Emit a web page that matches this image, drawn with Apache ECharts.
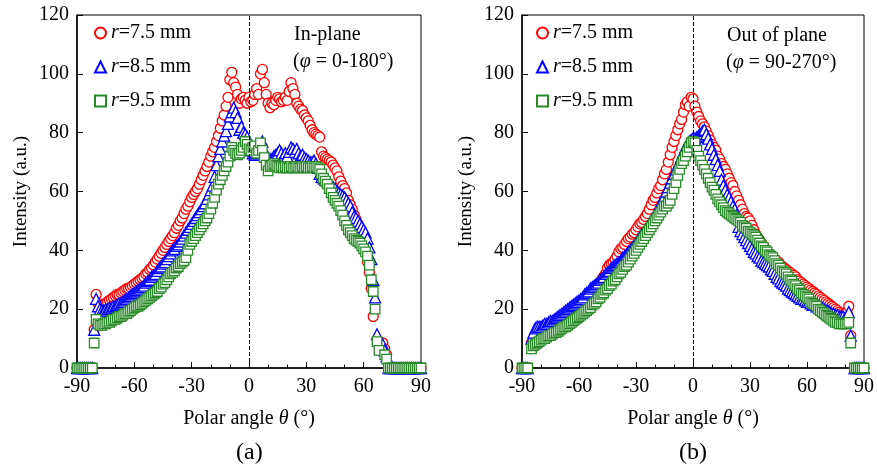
<!DOCTYPE html>
<html>
<head>
<meta charset="utf-8">
<script src="https://cdn.jsdelivr.net/npm/echarts@6/dist/echarts.min.js"></script>
<style>
html,body{margin:0;padding:0;background:#fff;}
#chart{width:877px;height:469px;}
</style>
</head>
<body>
<div id="chart"></div>
<script>
// Polar angle theta (deg), panel (a) and (b)
const thetaA = [
-90,-89,-88,-87,-86,-85,-84,-83,-82,-81,
-80,-79,-78,-77,-76,-75,-74,-73,-72,-71,
-70,-69,-68,-67,-66,-65,-64,-63,-62,-61,
-60,-59,-58,-57,-56,-55,-54,-53,-52,-51,
-50,-49,-48,-47,-46,-45,-44,-43,-42,-41,
-40,-39,-38,-37,-36,-35,-34,-33,-32,-31,
-30,-29,-28,-27,-26,-25,-24,-23,-22,-21,
-20,-19,-18,-17,-16,-15,-14,-13,-12,-11,
-10,-9,-8,-7,-6,-5,-4,-3,-2,-1,
0,1,2,3,4,5,6,7,8,9,
10,11,12,13,14,15,16,17,18,19,
20,21,22,23,24,25,26,27,28,29,
30,31,32,33,34,35,36,37,38,39,
40,41,42,43,44,45,46,47,48,49,
50,51,52,53,54,55,56,57,58,59,
60,61,62,63,64,65,66,67,68,69,
70,71,72,73,74,75,76,77,78,79,
80,81,82,83,84,85,86,87,88,89,90];
const thetaB = thetaA.slice();

// (a) In-plane (phi = 0-180 deg)
const inPlaneR75 = [
0,0,0,0,0,0,0,0,0,13,
25,22,21,21,21.5,22,22.5,23,23.5,24,
24.5,25,25,25.5,26,26.5,27,27,27.5,28,
28.5,29,29.5,30,30.5,31,32,32.5,33.5,34,
35,36,37,38,39,40,41,42,43,44,
45,46,47.5,48.5,50,51,52.5,54,55,56.5,
58,59,60,61,62.5,64,65.5,67,68.5,70,
72,73.5,75,77,79,81.5,84,86,89,92,
98,100.5,97,95.5,93,90,91.5,92,91,90,
92,90.5,91,93,95,93,100,101.5,97,93,
90,88.5,90,89.5,91,92,91.5,90.5,91,92,
91,94,97,95,93,90,89,88,87.5,86,
85,84,82.5,81,80,79.5,79,78.5,73.5,72,
71.5,71,70.5,70,69,68,67,65,63.5,62,
61,59.5,57,55.5,54,52,50.5,49,47,45,
42.5,40,36,32.5,27,17.5,null,null,null,null,
8.5,6.5,4.5,0,0,0,0,0,0,0,
0,0,0,0,0,0,0,0,0,0,0];
const inPlaneR85 = [
0,0,0,0,0,0,0,0,0,13,
23.5,21,20,19.5,19.5,20,20,20.5,20.5,21,
21,21.5,22,22,22.5,23,23.5,24,24.5,25,
25.5,26,26.5,27,27.5,28,29,29.5,30,31,
31.5,32,33,34,34.5,35.5,36,37,38,39,
40,40.5,41.5,42,43,44,45,46,47,48,
49,50,51,52,53,54,55,56,57.5,59,
60.5,62,65,69,72,74.5,77,79,80.5,83,
85.5,87,88.5,87,85,81,82,80,79.5,78.5,
76,74,73,72.5,73,74,75,77,74,72.5,
71.5,71,71,72,72.5,73,74,73,72,73,
72,73.5,75,74.5,73.5,74.5,73,72,72.5,71.5,
71,70.5,70,70,70.5,69.5,68,66,65,64.5,
64,63.5,63,62,61.5,61,60,59.5,59,58.5,
58,57,56,55,53,51.5,51,50,49,48,
47,46,44,41,37,30,24,11.5,null,null,
8,6,4,0,0,0,0,0,0,0,
0,0,0,0,0,0,0,0,0,0,0];
const inPlaneR95 = [
0,0,0,0,0,0,0,0,0,8.5,
16.5,15,14.5,14.5,15,15,15.5,15.5,16,16.5,
16.5,17,17.5,17.5,18,18.5,18.5,19,19.5,20,
20.5,21,21,21.5,22,22.5,23,23.5,24,24.5,
25,25.5,26,27,27.5,28.5,29,30,31,32,
32.5,33,34,34.5,35.5,36,36.5,37.5,40,42,
43,44,45,46,47,48,49,50,51,52.5,
54,56,58,60.5,62.5,64,65.5,67,68.5,70,
72,75,74,73,72.5,73,74,75,77,76,
74.5,74,75,75.5,73,74,76.5,74,71.5,69,
67,68.5,69,69.5,69,68.5,68,68.5,68,68.5,
68,68,68.5,68,68,68.5,68,68,68.5,68,
68.5,68,68,68.5,68,68.5,68,67.5,66,64.5,
63.5,62.5,61,59.5,58,57,56,55,53.5,52,
50,48.5,47,46,45,44,43.5,43,42.5,41.5,
40.5,39.5,38,35,30,26,20,9,6,null,
null,4.5,3,0,0,0,0,0,0,0,
0,0,0,0,0,0,0,0,0,0,0];

// (b) Out of plane (phi = 90-270 deg)
const outPlaneR75 = [
0,0,0,0,null,8.5,10,11,11.5,12,
12.5,13,13,13.5,14,14.5,15,15,15.5,16,
16.5,17,17.5,18,18.5,19,19.5,20,20.5,21,
21.5,22,22.5,23,24,24.5,25,26,26.5,27,
28,29,30,31,32,34,35,35.5,36,37,
38,39.5,40.5,41,42,43,44,44.5,45.5,46,
47,48,49,49.5,50.5,51.5,52.5,54,55.5,57,
58,59.5,61,62,64,66,67.5,70,72.5,75,
77,79,81,83,84.5,87,89.5,90.5,89,92,
91.5,89,87,85.5,84,83,82,80.5,79,77.5,
76,75,74,72,71,69.5,68.5,67.5,66,64.5,
63,62,60,58.5,57,55.5,54,52.5,51.5,51,
50,48.5,47,45.5,44.5,43.5,42.5,41.5,40.5,39.5,
38.5,38,37.5,37,36.5,36,35,34.5,34,33.5,
33,32.5,32,31.5,31,30,29.5,29,28.5,28,
27.5,27,26.5,26,25.5,25,24.5,24,23.5,23,
22.5,22,21.5,21,20.5,20,19.5,19,18.5,18,
18.5,19,21,11,null,0,0,0,0,0,0];
const outPlaneR85 = [
0,0,0,0,null,10,12,13.5,14,14,
14,14.5,15,15,15.5,16,16,16.5,17,17.5,
18,18.5,19,19.5,20,20.5,21,21.5,22,22.5,
23,23.5,24,25,25.5,26,27,27.5,28,28.5,
29,30,30.5,31,32,32.5,33,34,34.5,35,
35.5,36,36.5,37.5,38,38.5,39.5,40,41,41.5,
42.5,43.5,44.5,45.5,46,47,48,49,50,51,
52,53,54.5,56,57,58.5,60,61.5,63,64.5,
66,67.5,69,70.5,72,73.5,75,76,77,77.5,
78,78,78.5,79,79.5,80.5,81,79.5,78,76,
74.5,72.5,71,69,67,64,62,60.5,59,58,
56.5,55,54,52,48,46.5,45.5,44.5,43.5,42.5,
41.5,40.5,39.5,39,38,37.5,36.5,36,35.5,35,
34.5,33.5,33,32,31,30.5,29.5,29,28.5,28,
27,26.5,26,25.5,25,24.5,24,23.5,23.5,23,
22.5,22.5,22,21.5,21.5,21,21,20.5,20.5,20,
19.5,19.5,19,18.5,18.5,18,18,17.5,17.5,17.5,
17,17.5,19,11,null,0,0,0,0,0,0];
const outPlaneR95 = [
0,0,0,0,null,6.5,7.5,8,8.5,9,
9.5,10,10,10.5,11,11,11.5,12,12,12.5,
13,13.5,14,14,14.5,15,15.5,16,16.5,17,
17.5,18,18.5,19,19.5,20,20.5,21.5,22,22.5,
23.5,24,25,25.5,26.5,27,28,28.5,29.5,30,
31,32,32.5,33.5,34.5,35,36,37,38,39,
40,41,42,43,44,45,46,47,48,49,
50,51,52,53,54,55,55,56,57,59,
61,63,65.5,67.5,69.5,70.5,72,73.5,75,76.5,
77,76.5,74,72,70.5,69,67.5,66,64.5,63,
61.5,60.5,59,57.5,56.5,55.5,54.5,53.5,53,52.5,
52,51.5,51,50.5,50,49.5,48.5,48,47.5,46.5,
46,45.5,45,44.5,43.5,42.5,41.5,41,40,39.5,
38.5,38,37.5,36.5,35.5,35,34,33,32.5,32,
31,30,29.5,28.5,28,27,26.5,25.5,25,24.5,
24,23.5,22.5,22,21.5,21,20,19.5,19,18.5,
18,17.5,17,16.5,16,15.5,15.5,15,15,15,
15,15,15.5,8.5,null,0,0,0,0,0,0];

const seriesNames = ['r=7.5 mm', 'r=8.5 mm', 'r=9.5 mm'];
const xTicks = {min: -90, max: 90, interval: 30};
const yTicks = {min: 0, max: 120, interval: 20};
const panelLabels = ['(a)', '(b)'];
const notes = [['In-plane', '0-180°'], ['Out of plane', '90-270°']];

const FONT = 'Liberation Serif';
const styles = [
  {symbol: 'circle', size: 10, color: '#ff0000'},
  {symbol: 'triangle', size: 11, color: '#0000ff'},
  {symbol: 'rect', size: 9.5, color: '#2a8a2a'}
];

function pairs(theta, vals) {
  const out = [];
  for (let i = 0; i < theta.length; i++) {
    if (vals[i] !== null && vals[i] !== undefined) out.push([theta[i], vals[i]]);
  }
  return out;
}

const grids = [
  {left: 77, top: 15, width: 344, height: 353},
  {left: 522, top: 15, width: 343, height: 353}
];

function xAxisFor(idx) {
  return {
    gridIndex: idx, type: 'value', min: xTicks.min, max: xTicks.max, interval: xTicks.interval,
    axisLine: {show: true, onZero: false, lineStyle: {color: '#000', width: 1.5}},
    axisTick: {show: true, inside: true, length: 6, lineStyle: {color: '#000', width: 1}},
    minorTick: {show: true, splitNumber: 3, length: 3.5, lineStyle: {color: '#000', width: 1}},
    splitLine: {show: false},
    axisLabel: {color: '#000', fontFamily: FONT, fontSize: 20, margin: 9},
    name: 'Polar angle {i|θ} (°)', nameLocation: 'middle', nameGap: 41,
    nameTextStyle: {color: '#000', fontFamily: FONT, fontSize: 20,
      rich: {i: {fontStyle: 'italic', fontFamily: FONT, fontSize: 20, color: '#000'}}}
  };
}
function yAxisFor(idx) {
  return {
    gridIndex: idx, type: 'value', min: yTicks.min, max: yTicks.max, interval: yTicks.interval,
    axisLine: {show: true, onZero: false, lineStyle: {color: '#000', width: 1.5}},
    axisTick: {show: true, inside: true, length: 6, lineStyle: {color: '#000', width: 1}},
    splitLine: {show: false},
    axisLabel: {color: '#000', fontFamily: FONT, fontSize: 20, margin: 8},
    name: 'Intensity (a.u.)', nameLocation: 'middle', nameGap: 46,
    nameTextStyle: {color: '#000', fontFamily: FONT, fontSize: 19}
  };
}

const dataSets = [
  [inPlaneR75, inPlaneR85, inPlaneR95],
  [outPlaneR75, outPlaneR85, outPlaneR95]
];
const thetas = [thetaA, thetaB];

const series = [];
for (let p = 0; p < 2; p++) {
  for (let s = 0; s < 3; s++) {
    const st = styles[s];
    const ser = {
      type: 'scatter', name: seriesNames[s], xAxisIndex: p, yAxisIndex: p,
      data: pairs(thetas[p], dataSets[p][s]),
      symbol: st.symbol, symbolSize: st.size, clip: false,
      itemStyle: {color: '#ffffff', borderColor: st.color, borderWidth: 1.3, opacity: 1},
      emphasis: {disabled: true}
    };
    if (s === 2) {
      ser.markLine = {
        silent: true, symbol: ['none', 'none'], animation: false,
        label: {show: false},
        lineStyle: {color: '#000', width: 1, type: [4, 2]},
        data: [{xAxis: 0}]
      };
    }
    series.push(ser);
  }
}

function legendFor(left) {
  return {
    orient: 'vertical', left: left, top: 23, itemGap: 14, itemWidth: 11, itemHeight: 11,
    data: seriesNames, selectedMode: false,
    formatter: function (name) { return '{i|r}{n|' + name.slice(1) + '}'; },
    textStyle: {color: '#000', fontFamily: FONT, fontSize: 20,
      rich: {
        i: {fontStyle: 'italic', fontFamily: FONT, fontSize: 20, color: '#000', lineHeight: 22},
        n: {fontFamily: FONT, fontSize: 20, color: '#000', lineHeight: 22}
      }},
    padding: [0, 5, 0, 5]
  };
}

function noteText(x, y, title, range) {
  return [
    {type: 'text', left: x, top: y, style: {text: title, fontFamily: FONT, fontSize: 20, fill: '#000'}},
    {type: 'text', left: x - 1, top: y + 27, style: {
      text: '{n|(}{i|φ}{n| = ' + range + ')}',
      rich: {
        n: {fontFamily: FONT, fontSize: 20, fill: '#000', color: '#000'},
        i: {fontFamily: FONT, fontSize: 20, fontStyle: 'italic', fill: '#000', color: '#000'}
      }}}
  ];
}

const graphic = []
  .concat(noteText(294, 25, notes[0][0], notes[0][1]))
  .concat(noteText(727, 26, notes[1][0], notes[1][1]))
  .concat([
    {type: 'text', left: 236, top: 441, style: {text: panelLabels[0], fontFamily: FONT, fontSize: 24, fill: '#000'}},
    {type: 'text', left: 679, top: 441, style: {text: panelLabels[1], fontFamily: FONT, fontSize: 24, fill: '#000'}}
  ]);

const chart = echarts.init(document.getElementById('chart'), null, {renderer: 'canvas'});
chart.setOption({
  animation: false,
  backgroundColor: '#fff',
  grid: grids.map(g => Object.assign({show: true, borderColor: '#000', borderWidth: 1, backgroundColor: 'transparent'}, g)),
  xAxis: [xAxisFor(0), xAxisFor(1)],
  yAxis: [yAxisFor(0), yAxisFor(1)],
  legend: [legendFor(89), legendFor(531)],
  graphic: graphic,
  series: series
});
</script>
</body>
</html>
